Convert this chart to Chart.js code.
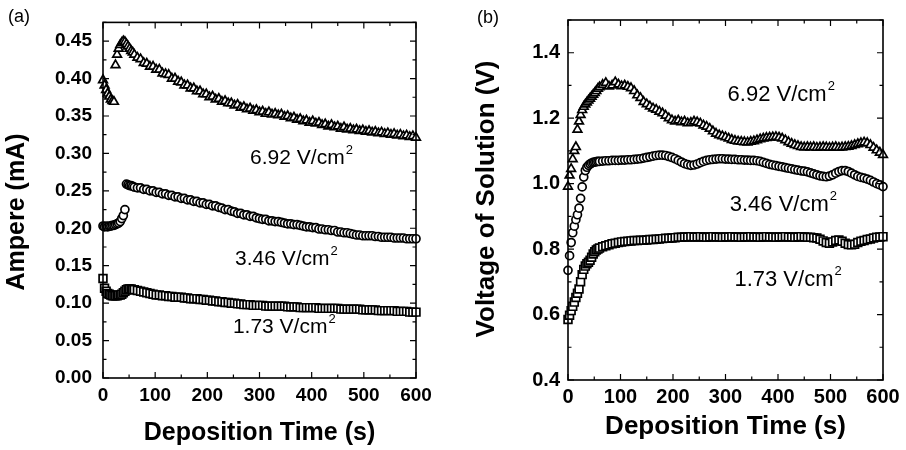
<!DOCTYPE html>
<html>
<head>
<meta charset="utf-8">
<script src="https://cdn.jsdelivr.net/npm/chart.js@4.4.0/dist/chart.umd.min.js"></script>
<style>
  body { margin: 0; background: #fff; }
  #wrap { position: relative; width: 906px; height: 450px; }
  #chartA { position: absolute; left: 0; top: 0; }
  #chartB { position: absolute; left: 450px; top: 0; }
</style>
</head>
<body>
<div id="wrap">
  <canvas id="chartA" width="450" height="450"></canvas>
  <canvas id="chartB" width="456" height="450"></canvas>
</div>
<script>
// deposition time (s), shared by every series
var times = [0,3,6,9,12,15,18,21,24,27,30,33,36,39,42,45,48,51,54,57,60,
  66,72,78,84,90,96,102,108,114,120,
  126,132,138,144,150,156,162,168,174,180,
  186,192,198,204,210,216,222,228,234,240,
  246,252,258,264,270,276,282,288,294,300,
  306,312,318,324,330,336,342,348,354,360,
  366,372,378,384,390,396,402,408,414,420,
  426,432,438,444,450,456,462,468,474,480,
  486,492,498,504,510,516,522,528,534,540,
  546,552,558,564,570,576,582,588,594,600];

// (a) current, mA
var amp692 = [0.398,0.391,0.385,0.380,0.376,0.372,0.370,0.369,0.418,0.432,0.440,0.445,0.448,0.450,0.449,0.446,0.443,0.440,0.437,0.435,0.432,
  0.428,0.426,0.421,0.420,0.416,0.416,0.412,0.412,0.407,0.406,
  0.405,0.400,0.400,0.396,0.395,0.391,0.391,0.387,0.387,0.383,
  0.383,0.379,0.379,0.375,0.376,0.372,0.373,0.369,0.370,0.367,
  0.367,0.364,0.365,0.361,0.362,0.359,0.360,0.357,0.358,0.355,
  0.356,0.353,0.355,0.352,0.353,0.351,0.352,0.349,0.350,0.347,
  0.348,0.345,0.346,0.343,0.344,0.341,0.343,0.340,0.341,0.338,
  0.339,0.336,0.338,0.335,0.336,0.333,0.335,0.332,0.333,0.331,
  0.332,0.330,0.331,0.329,0.330,0.328,0.329,0.327,0.328,0.326,
  0.327,0.325,0.326,0.324,0.325,0.323,0.324,0.322,0.323,0.321];
var amp346 = [0.203,0.202,0.203,0.202,0.203,0.203,0.204,0.204,0.205,0.206,0.207,0.209,0.213,0.217,0.225,0.259,0.258,0.257,0.257,0.256,0.255,
  0.254,0.254,0.252,0.252,0.250,0.250,0.248,0.248,0.246,0.246,
  0.244,0.244,0.242,0.242,0.240,0.240,0.238,0.238,0.236,0.236,
  0.234,0.234,0.232,0.232,0.230,0.230,0.228,0.227,0.225,0.225,
  0.223,0.222,0.220,0.220,0.218,0.218,0.216,0.216,0.214,0.213,
  0.212,0.212,0.210,0.210,0.209,0.209,0.208,0.207,0.206,0.206,
  0.205,0.205,0.204,0.203,0.202,0.202,0.201,0.201,0.199,0.199,
  0.198,0.198,0.197,0.197,0.195,0.195,0.194,0.194,0.193,0.192,
  0.191,0.191,0.190,0.190,0.190,0.190,0.189,0.189,0.188,0.188,
  0.188,0.188,0.187,0.187,0.187,0.187,0.186,0.186,0.186,0.186];
var amp173 = [0.133,0.120,0.116,0.113,0.112,0.111,0.110,0.110,0.110,0.110,0.111,0.111,0.112,0.114,0.116,0.118,0.119,0.119,0.119,0.118,0.118,
  0.117,0.116,0.115,0.114,0.113,0.112,0.111,0.111,0.110,0.110,
  0.109,0.109,0.108,0.108,0.108,0.107,0.107,0.106,0.106,0.106,
  0.105,0.105,0.104,0.104,0.103,0.103,0.102,0.102,0.101,0.101,
  0.100,0.100,0.099,0.099,0.098,0.098,0.098,0.097,0.097,0.097,
  0.097,0.096,0.096,0.096,0.096,0.096,0.096,0.096,0.095,0.095,
  0.095,0.095,0.094,0.094,0.094,0.094,0.094,0.094,0.093,0.093,
  0.093,0.093,0.093,0.093,0.093,0.092,0.092,0.092,0.092,0.092,
  0.092,0.092,0.091,0.091,0.091,0.091,0.091,0.090,0.090,0.090,
  0.090,0.090,0.090,0.089,0.089,0.089,0.089,0.088,0.088,0.088];

// (b) voltage of solution, V
var volt692 = [0.991,1.025,1.045,1.075,1.100,1.112,1.165,1.190,1.210,1.225,1.235,1.242,1.248,1.254,1.260,1.266,1.272,1.277,1.283,1.290,1.295,
  1.302,1.308,1.297,1.300,1.310,1.303,1.298,1.300,1.296,1.292,
  1.283,1.270,1.262,1.250,1.243,1.236,1.230,1.226,1.220,1.215,
  1.208,1.200,1.194,1.190,1.193,1.188,1.190,1.185,1.186,1.190,
  1.188,1.184,1.178,1.174,1.168,1.160,1.153,1.148,1.145,1.142,
  1.138,1.134,1.131,1.129,1.128,1.127,1.126,1.128,1.130,1.133,
  1.136,1.138,1.140,1.141,1.142,1.143,1.141,1.138,1.133,1.127,
  1.122,1.118,1.115,1.112,1.111,1.112,1.111,1.112,1.110,1.111,
  1.112,1.111,1.110,1.111,1.112,1.110,1.111,1.112,1.113,1.115,
  1.118,1.121,1.124,1.126,1.124,1.118,1.110,1.102,1.095,1.088];
var volt346 = [0.735,0.780,0.820,0.850,0.870,0.890,0.905,0.925,0.955,0.990,1.020,1.040,1.050,1.056,1.060,1.063,1.065,1.066,1.067,1.068,1.068,
  1.069,1.070,1.070,1.071,1.071,1.071,1.072,1.072,1.073,1.073,
  1.074,1.075,1.076,1.078,1.080,1.082,1.084,1.086,1.087,1.087,
  1.086,1.083,1.080,1.076,1.071,1.066,1.061,1.058,1.056,1.057,
  1.060,1.064,1.068,1.071,1.073,1.074,1.075,1.076,1.076,1.075,
  1.075,1.074,1.074,1.073,1.073,1.072,1.072,1.071,1.071,1.070,
  1.068,1.065,1.062,1.059,1.057,1.055,1.053,1.051,1.049,1.047,
  1.045,1.043,1.041,1.039,1.038,1.036,1.033,1.030,1.027,1.024,
  1.022,1.021,1.023,1.027,1.032,1.037,1.040,1.040,1.037,1.032,
  1.027,1.022,1.019,1.017,1.014,1.010,1.005,1.000,0.996,0.991];
var volt173 = [0.585,0.598,0.612,0.625,0.638,0.652,0.665,0.678,0.700,0.722,0.738,0.748,0.755,0.760,0.766,0.775,0.785,0.792,0.797,0.800,0.803,
  0.807,0.810,0.813,0.816,0.818,0.820,0.822,0.823,0.824,0.825,
  0.826,0.826,0.827,0.827,0.828,0.829,0.829,0.830,0.831,0.832,
  0.833,0.833,0.834,0.835,0.836,0.836,0.837,0.837,0.838,0.837,
  0.837,0.838,0.837,0.836,0.837,0.838,0.837,0.837,0.836,0.837,
  0.837,0.838,0.837,0.837,0.836,0.837,0.837,0.838,0.837,0.837,
  0.836,0.837,0.838,0.837,0.837,0.836,0.837,0.837,0.838,0.837,
  0.837,0.836,0.837,0.838,0.837,0.836,0.836,0.835,0.834,0.830,
  0.825,0.820,0.818,0.822,0.826,0.828,0.824,0.818,0.814,0.813,
  0.815,0.820,0.824,0.826,0.829,0.831,0.834,0.836,0.837,0.838];

var seriesLabels = ['6.92 V/cm', '3.46 V/cm', '1.73 V/cm'];

var FONT = '"Liberation Sans", Arial, Helvetica, sans-serif';
Chart.defaults.font.family = FONT;
Chart.defaults.color = '#000';

function points(ys) {
  return times.map(function (t, i) { return { x: t, y: ys[i] }; });
}

function marker(label, ys, style, r) {
  return {
    label: label,
    data: points(ys),
    pointStyle: style,
    pointRadius: r,
    pointBackgroundColor: '#fff',
    pointBorderColor: '#000',
    pointBorderWidth: 1.7,
    showLine: false,
    clip: false
  };
}

// frame, inward ticks, in-plot text and rotated y title
var decor = {
  id: 'decor',
  afterDraw: function (chart, args, opts) {
    var ctx = chart.ctx, a = chart.chartArea;
    var xs = chart.scales.x, ys = chart.scales.y;
    ctx.save();
    ctx.strokeStyle = '#000';
    ctx.lineWidth = 1.6;
    ctx.strokeRect(a.left, a.top, a.right - a.left, a.bottom - a.top);
    ctx.lineWidth = 1.2;
    ctx.beginPath();
    var i, v, p, len;
    for (i = 0, v = xs.min; v <= xs.max + 1e-9; i++, v = xs.min + i * opts.xMinor) {
      p = xs.getPixelForValue(v);
      len = i % 2 === 0 ? 6 : 3.5;
      ctx.moveTo(p, a.bottom); ctx.lineTo(p, a.bottom - len);
      ctx.moveTo(p, a.top); ctx.lineTo(p, a.top + len);
    }
    for (i = 0, v = ys.min; v <= ys.max + 1e-9; i++, v = ys.min + i * opts.yMinor) {
      p = ys.getPixelForValue(v);
      len = i % 2 === 0 ? 6 : 3.5;
      ctx.moveTo(a.left, p); ctx.lineTo(a.left + len, p);
      ctx.moveTo(a.right, p); ctx.lineTo(a.right - len, p);
    }
    ctx.stroke();

    ctx.fillStyle = '#000';
    ctx.textBaseline = 'middle';
    ctx.textAlign = 'left';
    opts.notes.forEach(function (n) {
      var px = xs.getPixelForValue(n.x), py = ys.getPixelForValue(n.y);
      ctx.font = opts.noteSize + 'px ' + FONT;
      ctx.fillText(n.text, px, py);
      var w = ctx.measureText(n.text).width;
      ctx.font = Math.round(opts.noteSize * 0.6) + 'px ' + FONT;
      ctx.fillText('2', px + w + 1, py - opts.noteSize * 0.38);
    });

    ctx.font = opts.panelSize + 'px ' + FONT;
    ctx.fillText(opts.panel, opts.panelX, opts.panelY);

    ctx.translate(opts.titleX, opts.titleY);
    ctx.rotate(-Math.PI / 2);
    ctx.textAlign = 'center';
    ctx.font = 'bold ' + opts.titleSize + 'px ' + FONT;
    ctx.fillText(opts.title, 0, 0);
    ctx.restore();
  }
};

function makeChart(id, cfg) {
  return new Chart(document.getElementById(id), {
    type: 'scatter',
    data: { datasets: cfg.datasets },
    options: {
      responsive: false,
      animation: false,
      devicePixelRatio: 1,
      layout: { padding: cfg.padding },
      plugins: {
        legend: { display: false },
        tooltip: { enabled: false },
        decor: cfg.decor
      },
      scales: {
        x: {
          type: 'linear', min: 0, max: 600,
          grid: { display: false, drawTicks: false },
          border: { display: false },
          ticks: { stepSize: 100, padding: cfg.xPad, font: { size: cfg.tickSize, weight: 'bold' }, maxRotation: 0 },
          title: { display: true, text: 'Deposition Time (s)', font: { size: cfg.titleSize, weight: 'bold' }, padding: { top: 0, bottom: cfg.xTitlePad } },
          afterFit: function (s) { s.height = cfg.xHeight; }
        },
        y: {
          type: 'linear', min: cfg.yMin, max: cfg.yMax,
          grid: { display: false, drawTicks: false },
          border: { display: false },
          ticks: {
            stepSize: cfg.yStep, includeBounds: false, padding: cfg.yPad,
            font: { size: cfg.tickSize, weight: 'bold' },
            callback: function (v) { return v.toFixed(cfg.yDigits); }
          },
          afterFit: function (s) { s.width = cfg.yWidth; }
        }
      }
    },
    plugins: [decor]
  });
}

makeChart('chartA', {
  datasets: [
    marker(seriesLabels[0], amp692, 'triangle', 5),
    marker(seriesLabels[1], amp346, 'circle', 4),
    marker(seriesLabels[2], amp173, 'rect', 5.5)
  ],
  padding: { left: 0, top: 8, right: 34, bottom: 0 },
  yMin: 0, yMax: 0.475, yStep: 0.05, yDigits: 2,
  yWidth: 103, xHeight: 72, xPad: 6, yPad: 11,
  tickSize: 19, titleSize: 25, xTitlePad: 2,
  decor: {
    xMinor: 50, yMinor: 0.025,
    noteSize: 21,
    notes: [
      { text: seriesLabels[0], x: 282, y: 0.293 },
      { text: seriesLabels[1], x: 253, y: 0.159 },
      { text: seriesLabels[2], x: 249, y: 0.068 }
    ],
    panel: '(a)', panelX: 8, panelY: 17, panelSize: 18,
    title: 'Ampere (mA)', titleX: 17, titleY: 212, titleSize: 25
  }
});

makeChart('chartB', {
  datasets: [
    marker(seriesLabels[0], volt692, 'triangle', 5),
    marker(seriesLabels[1], volt346, 'circle', 4),
    marker(seriesLabels[2], volt173, 'rect', 5.5)
  ],
  padding: { left: 0, top: 7, right: 23, bottom: 0 },
  yMin: 0.4, yMax: 1.5, yStep: 0.2, yDigits: 1,
  yWidth: 118, xHeight: 70, xPad: 5, yPad: 8,
  tickSize: 20, titleSize: 26, xTitlePad: 8,
  decor: {
    xMinor: 50, yMinor: 0.1,
    noteSize: 22,
    notes: [
      { text: seriesLabels[0], x: 304, y: 1.27 },
      { text: seriesLabels[1], x: 308, y: 0.935 },
      { text: seriesLabels[2], x: 317, y: 0.707 }
    ],
    panel: '(b)', panelX: 27, panelY: 18, panelSize: 18,
    title: 'Voltage of Solution (V)', titleX: 37, titleY: 199, titleSize: 26
  }
});
</script>
</body>
</html>
